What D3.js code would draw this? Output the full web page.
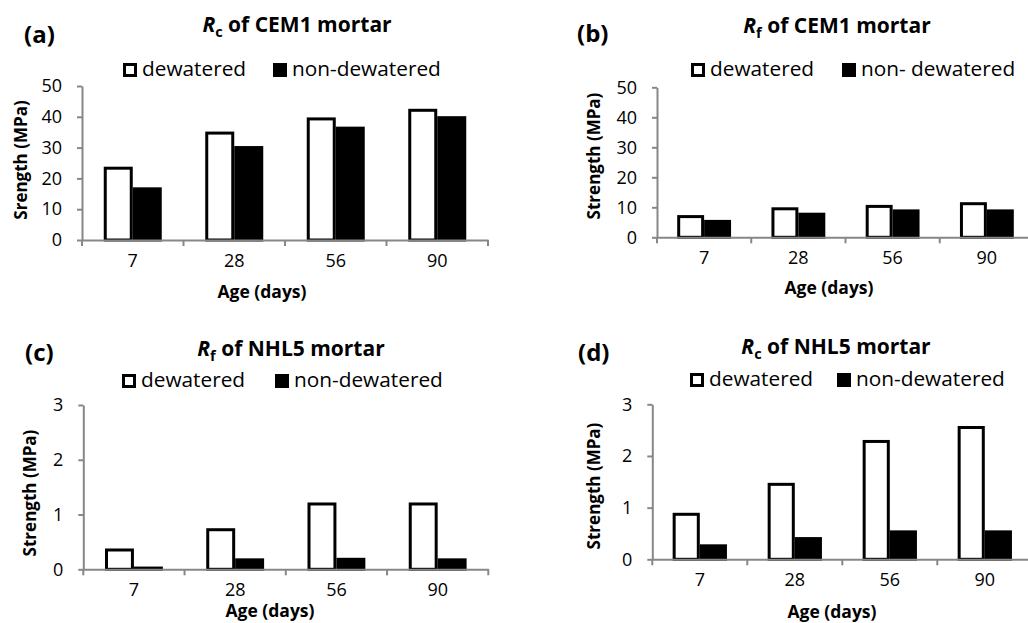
<!DOCTYPE html>
<html>
<head>
<meta charset="utf-8">
<script src="https://cdn.jsdelivr.net/npm/d3@7"></script>
<style>
  body { margin: 0; background: #fff; }
  svg { display: block; font-family: "Open Sans", sans-serif; }
  .axis path, .axis line { stroke: #878787; stroke-width: 2; }
  .axis text { font-size: 18px; fill: #000; font-family: "Open Sans", sans-serif; }
</style>
</head>
<body>
<svg id="chart" width="1028" height="623"></svg>
<script>
// ages and series
var ages = ["7", "28", "56", "90"];
var series = ["dewatered", "non-dewatered"];

// values (MPa)
var rcCem1Dew = [23.8, 35.2, 39.8, 42.6];
var rcCem1Non = [17.1, 30.5, 36.8, 40.2];
var rfCem1Dew = [7.4, 10.0, 10.8, 11.7];
var rfCem1Non = [5.8, 8.2, 9.3, 9.3];
var rfNhl5Dew = [0.38, 0.75, 1.22, 1.22];
var rfNhl5Non = [0.05, 0.20, 0.21, 0.20];
var rcNhl5Dew = [0.90, 1.48, 2.31, 2.58];
var rcNhl5Non = [0.29, 0.43, 0.56, 0.56];

var ticksCem1 = [0, 10, 20, 30, 40, 50];
var ticksNhl5 = [0, 1, 2, 3];

// panel layouts
var panels = [
  { tag: "(a)", sym: "R", sub: "c", rest: " of CEM1 mortar", yTitle: "Srength (MPa)",
    dew: rcCem1Dew, non: rcCem1Non, ticks: ticksCem1, legend2: "non-dewatered",
    left: 82, right: 488, zero: 240, top: 86,
    titleX: 297, titleY: 32, tagX: 24, tagY: 43,
    legY: 63, leg1X: 123, leg2X: 273, yTitleX: 21, yTitleY: 160, xTitleX: 262, xTitleY: 298 },
  { tag: "(b)", sym: "R", sub: "f", rest: " of CEM1 mortar", yTitle: "Strength (MPa)",
    dew: rfCem1Dew, non: rfCem1Non, ticks: ticksCem1, legend2: "non- dewatered",
    left: 657, right: 1034, zero: 237.3, top: 87.3,
    titleX: 837, titleY: 33, tagX: 577, tagY: 42,
    legY: 63, leg1X: 691, leg2X: 842, yTitleX: 594, yTitleY: 156, xTitleX: 829, xTitleY: 294 },
  { tag: "(c)", sym: "R", sub: "f", rest: " of NHL5 mortar", yTitle: "Strength (MPa)",
    dew: rfNhl5Dew, non: rfNhl5Non, ticks: ticksNhl5, legend2: "non-dewatered",
    left: 83.3, right: 488.3, zero: 569.3, top: 405,
    titleX: 291, titleY: 356, tagX: 25, tagY: 361,
    legY: 374, leg1X: 122, leg2X: 275, yTitleX: 30, yTitleY: 493, xTitleX: 270, xTitleY: 617 },
  { tag: "(d)", sym: "R", sub: "c", rest: " of NHL5 mortar", yTitle: "Strength (MPa)",
    dew: rcNhl5Dew, non: rcNhl5Non, ticks: ticksNhl5, legend2: "non-dewatered",
    left: 652.3, right: 1032.3, zero: 559.3, top: 404.3,
    titleX: 836, titleY: 354, tagX: 578, tagY: 361,
    legY: 373, leg1X: 690, leg2X: 837, yTitleX: 594, yTitleY: 486, xTitleX: 832, xTitleY: 618 }
];

var svg = d3.select("#chart");

panels.forEach(function(p) {
  var g = svg.append("g");
  var ymax = p.ticks[p.ticks.length - 1];

  var x0 = d3.scaleBand().domain(ages).range([p.left, p.right]).padding(0);
  var bw = x0.bandwidth();
  var x1 = d3.scaleBand().domain(series).range([bw * 0.75 / 3.5, bw * 2.75 / 3.5]).padding(0);
  var y = d3.scaleLinear().domain([0, ymax]).range([p.zero, p.top]);

  // bars
  var rows = ages.map(function(a, i) {
    return { age: a, vals: [{ s: series[0], v: p.dew[i] }, { s: series[1], v: p.non[i] }] };
  });
  var grp = g.selectAll(".grp").data(rows).enter().append("g")
    .attr("transform", function(d) { return "translate(" + x0(d.age) + ",0)"; });
  grp.selectAll("rect").data(function(d) { return d.vals; }).enter().append("rect")
    .attr("x", function(d) { return x1(d.s) + 1.5; })
    .attr("width", x1.bandwidth() - 3)
    .attr("y", function(d) { return y(d.v) + 1.5; })
    .attr("height", function(d) { return Math.max(0, p.zero - y(d.v) - 1.5); })
    .attr("fill", function(d) { return d.s == series[0] ? "#fff" : "#000"; })
    .attr("stroke", "#000")
    .attr("stroke-width", 3);

  // y axis
  g.append("g").attr("class", "axis")
    .attr("transform", "translate(" + p.left + ",0)")
    .call(d3.axisLeft(y).tickValues(p.ticks).tickFormat(d3.format("d"))
      .tickSizeInner(5).tickSizeOuter(0).tickPadding(15));

  // x axis (labels at centres, ticks at boundaries)
  var xa = g.append("g").attr("class", "axis")
    .attr("transform", "translate(0," + p.zero + ")")
    .call(d3.axisBottom(x0).tickSizeInner(0).tickSizeOuter(0).tickPadding(14.2));
  xa.selectAll(".tick line").remove();
  xa.selectAll(".bound").data(d3.range(ages.length + 1)).enter().append("line")
    .attr("x1", function(i) { return p.left + i * x0.step(); })
    .attr("x2", function(i) { return p.left + i * x0.step(); })
    .attr("y1", 0).attr("y2", 6);

  // titles
  var t = g.append("text").attr("x", p.titleX).attr("y", p.titleY)
    .attr("text-anchor", "middle").attr("font-weight", "bold").attr("font-size", "21px");
  t.append("tspan").attr("font-style", "italic").text(p.sym);
  t.append("tspan").attr("font-size", "14.5px").attr("dy", 5).text(p.sub);
  t.append("tspan").attr("dy", -5).text(p.rest);

  g.append("text").attr("x", p.tagX).attr("y", p.tagY)
    .attr("font-weight", "bold").attr("font-size", "24px").text(p.tag);

  g.append("text")
    .attr("transform", "translate(" + p.yTitleX + "," + p.yTitleY + ") rotate(-90)")
    .attr("text-anchor", "middle").attr("dy", "0.35em")
    .attr("font-weight", "bold").attr("font-size", "17px").text(p.yTitle);

  g.append("text").attr("x", p.xTitleX).attr("y", p.xTitleY)
    .attr("text-anchor", "middle").attr("font-weight", "bold").attr("font-size", "17.5px")
    .text("Age (days)");

  // legend
  var leg = [
    { x: p.leg1X, fill: "#fff", label: series[0] },
    { x: p.leg2X, fill: "#000", label: p.legend2 }
  ];
  leg.forEach(function(l) {
    g.append("rect").attr("x", l.x + 1.5).attr("y", p.legY + 1.5)
      .attr("width", 11).attr("height", 11)
      .attr("fill", l.fill).attr("stroke", "#000").attr("stroke-width", 3);
    g.append("text").attr("x", l.x + 19).attr("y", p.legY + 13)
      .attr("font-size", "20.8px").text(l.label);
  });
});
</script>
</body>
</html>
